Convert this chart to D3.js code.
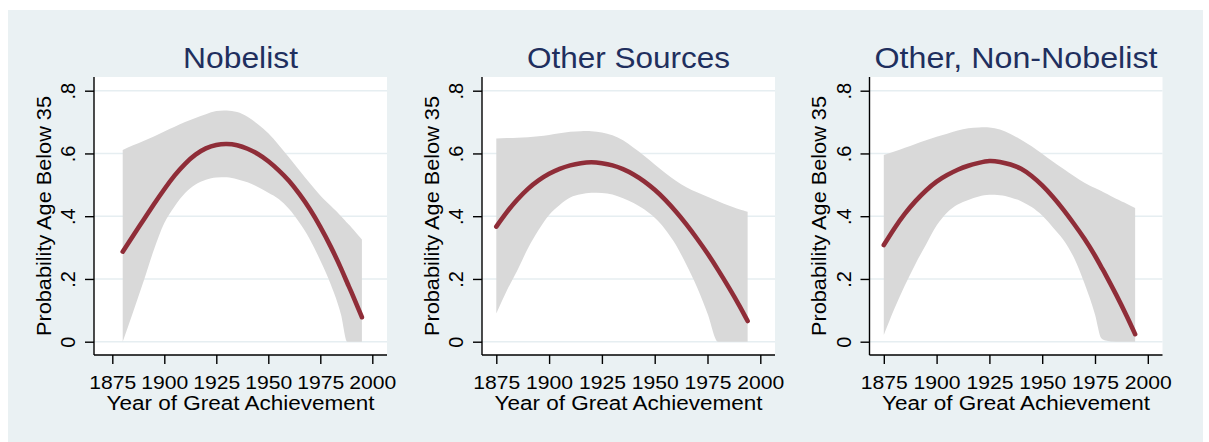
<!DOCTYPE html>
<html>
<head>
<meta charset="utf-8">
<script src="https://cdn.jsdelivr.net/npm/d3@7/dist/d3.min.js"></script>
<style>
  html, body { margin: 0; padding: 0; background: #ffffff; }
  svg { display: block; }
  text { font-family: "Liberation Sans", Arial, Helvetica, sans-serif; }
</style>
</head>
<body>
<svg id="chart" width="1209" height="442"></svg>
<script>
// Panel titles
const titles = ["Nobelist", "Other Sources", "Other, Non-Nobelist"];

// Axis ticks and labels
const xTicks = [1875, 1900, 1925, 1950, 1975, 2000];
const yTicks = [0, 0.2, 0.4, 0.6, 0.8];
const yTickLabels = ["0", ".2", ".4", ".6", ".8"];
const xAxisTitle = "Year of Great Achievement";
const yAxisTitle = "Probability Age Below 35";

// Nobelist: fitted probability with 95% band
const years1 = [1880, 1885, 1890, 1895, 1900, 1905, 1910, 1915, 1920, 1925, 1930, 1935, 1940, 1945, 1950, 1955, 1960, 1965, 1970, 1975, 1980, 1985, 1988, 1990, 1995];
const fit1   = [0.287, 0.338, 0.388, 0.438, 0.486, 0.530, 0.567, 0.596, 0.616, 0.627, 0.630, 0.626, 0.615, 0.598, 0.575, 0.546, 0.512, 0.470, 0.422, 0.366, 0.303, 0.233, 0.187, 0.157, 0.078];
const upper1 = [0.611, 0.626, 0.640, 0.654, 0.670, 0.685, 0.700, 0.713, 0.725, 0.735, 0.737, 0.732, 0.717, 0.693, 0.664, 0.627, 0.587, 0.546, 0.505, 0.466, 0.433, 0.400, 0.378, 0.364, 0.326];
const lower1 = [0.000, 0.095, 0.192, 0.293, 0.378, 0.432, 0.474, 0.501, 0.516, 0.523, 0.524, 0.518, 0.508, 0.493, 0.475, 0.455, 0.423, 0.379, 0.326, 0.259, 0.183, 0.085, 0.000, 0.000, 0.000];

// Other Sources
const years2 = [1875, 1880, 1885, 1890, 1895, 1900, 1905, 1910, 1915, 1920, 1925, 1930, 1935, 1940, 1945, 1950, 1955, 1960, 1965, 1970, 1975, 1980, 1985, 1990, 1994];
const fit2   = [0.367, 0.413, 0.453, 0.487, 0.514, 0.535, 0.551, 0.562, 0.569, 0.572, 0.569, 0.562, 0.550, 0.533, 0.511, 0.484, 0.452, 0.415, 0.374, 0.329, 0.281, 0.229, 0.174, 0.116, 0.066];
const upper2 = [0.648, 0.649, 0.650, 0.652, 0.655, 0.659, 0.664, 0.669, 0.671, 0.671, 0.667, 0.658, 0.642, 0.618, 0.593, 0.565, 0.538, 0.513, 0.492, 0.476, 0.462, 0.448, 0.434, 0.422, 0.414];
const lower2 = [0.090, 0.163, 0.228, 0.298, 0.356, 0.404, 0.436, 0.460, 0.470, 0.475, 0.474, 0.469, 0.457, 0.442, 0.422, 0.395, 0.358, 0.309, 0.245, 0.174, 0.090, 0.000, 0.000, 0.000, 0.000];

// Other, Non-Nobelist
const years3 = [1875, 1880, 1885, 1890, 1895, 1900, 1905, 1910, 1915, 1920, 1925, 1930, 1935, 1940, 1945, 1950, 1955, 1960, 1965, 1970, 1975, 1978, 1980, 1985, 1990, 1994];
const fit3   = [0.308, 0.361, 0.408, 0.448, 0.482, 0.510, 0.531, 0.548, 0.561, 0.570, 0.576, 0.573, 0.565, 0.551, 0.528, 0.498, 0.462, 0.421, 0.376, 0.328, 0.274, 0.238, 0.214, 0.150, 0.082, 0.024];
const upper3 = [0.595, 0.606, 0.618, 0.630, 0.642, 0.653, 0.663, 0.673, 0.680, 0.683, 0.683, 0.676, 0.662, 0.644, 0.623, 0.599, 0.574, 0.551, 0.528, 0.507, 0.490, 0.480, 0.473, 0.456, 0.440, 0.426];
const lower3 = [0.021, 0.105, 0.180, 0.248, 0.310, 0.370, 0.412, 0.437, 0.452, 0.463, 0.468, 0.467, 0.460, 0.448, 0.429, 0.402, 0.365, 0.325, 0.268, 0.186, 0.087, 0.011, 0.004, 0.000, 0.000, 0.000];

const seriesYears = [years1, years2, years3];
const seriesFit = [fit1, fit2, fit3];
const seriesUpper = [upper1, upper2, upper3];
const seriesLower = [lower1, lower2, lower3];

// Layout
const panelLeft = [94, 482, 869.5];
const firstTickOffset = [18.3, 14.3, 14.3];
const lastTickOffset = 278.3;
const plotW = 293, plotTop = 77, plotBottom = 355;
const titleWidths = [115, 203, 283];

const colors = {
  region: "#eaf1f3",
  grid: "#e6eef1",
  band: "#d9d9d9",
  line: "#8f2d38",
  title: "#1f2f5e",
  text: "#000000"
};

const svg = d3.select("#chart");

// outer graph region
svg.append("rect")
  .attr("x", 8).attr("y", 10)
  .attr("width", 1195).attr("height", 432)
  .attr("fill", colors.region);

const y = d3.scaleLinear().domain([0, 0.8]).range([341.7, 90.7]);

titles.forEach((title, i) => {
  const left = panelLeft[i];
  const x = d3.scaleLinear().domain([1875, 2000])
    .range([left + firstTickOffset[i], left + lastTickOffset]);
  const g = svg.append("g");

  // plot region
  g.append("rect")
    .attr("x", left).attr("y", plotTop)
    .attr("width", plotW).attr("height", plotBottom - plotTop)
    .attr("fill", "#ffffff");

  // horizontal grid
  g.selectAll("line.grid").data(yTicks).join("line")
    .attr("class", "grid")
    .attr("x1", left).attr("x2", left + plotW)
    .attr("y1", d => y(d)).attr("y2", d => y(d))
    .attr("stroke", colors.grid).attr("stroke-width", 1.6);

  const rows = seriesYears[i].map((yr, k) => ({
    year: yr, fit: seriesFit[i][k], hi: seriesUpper[i][k], lo: seriesLower[i][k]
  }));

  // confidence band: smooth upper edge, monotone lower edge (it rests on zero)
  const upperEdge = d3.line().x(d => x(d.year)).y(d => y(d.hi)).curve(d3.curveNatural);
  const lowerEdge = d3.line().x(d => x(d.year)).y(d => y(d.lo)).curve(d3.curveMonotoneX);
  const bandPath = upperEdge(rows) + "L" + lowerEdge(rows.slice().reverse()).slice(1) + "Z";
  g.append("path")
    .attr("d", bandPath)
    .attr("fill", colors.band);

  // fitted curve
  const line = d3.line()
    .x(d => x(d.year)).y(d => y(d.fit))
    .curve(d3.curveNatural);
  g.append("path").datum(rows)
    .attr("d", line)
    .attr("fill", "none")
    .attr("stroke", colors.line)
    .attr("stroke-width", 4.6)
    .attr("stroke-linecap", "round")
    .attr("stroke-linejoin", "round");

  // axis lines
  g.append("line")
    .attr("x1", left).attr("x2", left)
    .attr("y1", plotTop).attr("y2", plotBottom)
    .attr("stroke", "#000").attr("stroke-width", 1.4);
  g.append("line")
    .attr("x1", left).attr("x2", left + plotW)
    .attr("y1", plotBottom).attr("y2", plotBottom)
    .attr("stroke", "#000").attr("stroke-width", 1.4);

  // x axis
  const xAxis = g.append("g")
    .attr("transform", `translate(0,${plotBottom})`)
    .call(d3.axisBottom(x).tickValues(xTicks).tickSize(9).tickSizeOuter(0).tickFormat(d3.format("d")));
  xAxis.select(".domain").remove();
  xAxis.selectAll(".tick line").attr("stroke", "#000").attr("stroke-width", 1.4);
  xAxis.selectAll(".tick text")
    .attr("y", 34).attr("dy", 0)
    .attr("fill", colors.text)
    .style("font-size", "19px")
    .attr("textLength", 47)
    .attr("lengthAdjust", "spacingAndGlyphs");

  // y axis
  const yAxis = g.append("g")
    .attr("transform", `translate(${left},0)`)
    .call(d3.axisLeft(y).tickValues(yTicks).tickSize(9).tickSizeOuter(0)
      .tickFormat((d, k) => yTickLabels[k]));
  yAxis.select(".domain").remove();
  yAxis.selectAll(".tick line").attr("stroke", "#000").attr("stroke-width", 1.4);
  yAxis.selectAll(".tick text")
    .attr("transform", "rotate(-90)")
    .attr("x", 0).attr("y", -19).attr("dy", 0)
    .attr("text-anchor", "middle")
    .attr("fill", colors.text)
    .style("font-size", "20px");

  // axis titles
  g.append("text")
    .attr("x", left + plotW / 2).attr("y", 410)
    .attr("text-anchor", "middle")
    .attr("fill", colors.text)
    .style("font-size", "20px")
    .attr("textLength", 268)
    .attr("lengthAdjust", "spacingAndGlyphs")
    .text(xAxisTitle);

  g.append("text")
    .attr("transform", `translate(${left - 43.5},${(plotTop + plotBottom) / 2}) rotate(-90)`)
    .attr("text-anchor", "middle")
    .attr("fill", colors.text)
    .style("font-size", "20px")
    .attr("textLength", 240)
    .attr("lengthAdjust", "spacingAndGlyphs")
    .text(yAxisTitle);

  // panel title
  g.append("text")
    .attr("x", left + plotW / 2).attr("y", 68.3)
    .attr("text-anchor", "middle")
    .attr("fill", colors.title)
    .style("font-size", "30px")
    .attr("textLength", titleWidths[i])
    .attr("lengthAdjust", "spacingAndGlyphs")
    .text(title);
});
</script>
</body>
</html>
